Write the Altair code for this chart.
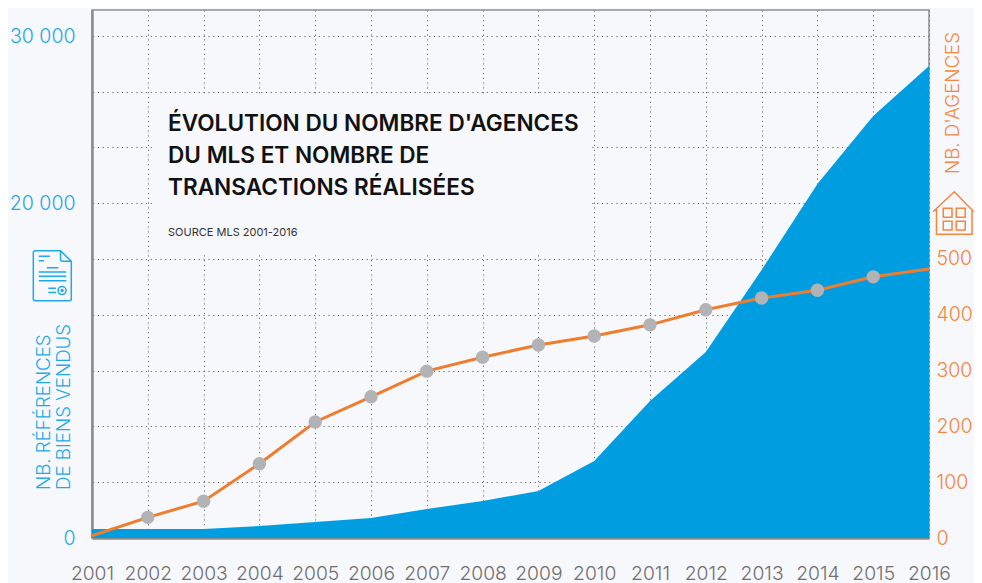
import altair as alt
import pandas as pd

years = list(range(2001, 2017))
listings = [540, 540, 540, 720, 960, 1200, 1730, 2210, 2810, 4600, 8190, 11120, 16020, 21160, 25220, 28200]
agencies = [4, 37, 66, 133, 208, 253, 299, 324, 346, 362, 382, 409, 430, 444, 468, 482]
title_lines = ["ÉVOLUTION DU NOMBRE D'AGENCES", "DU MLS ET NOMBRE DE", "TRANSACTIONS RÉALISÉES"]
source_text = "SOURCE MLS 2001-2016"

FONT = "Inter"
BG = "#f7f8fb"
BLUE = "#009ee0"
BLUE_T = "#1fa9e8"
ORANGE = "#f07c2e"
ORANGE_T = "#f4873f"
GREY = "#6f6f6f"
DOT = "#b1b3b6"

df = pd.DataFrame({"year": years, "listings": listings, "agencies": agencies})
dots = df[(df.year > 2001) & (df.year < 2016)]
one = pd.DataFrame({"a": [0]})

xs = alt.Scale(domain=[2001, 2016], nice=False, zero=False)
yl = alt.Scale(domain=[0, 31554], nice=False)
yr = alt.Scale(domain=[0, 946.2], nice=False)

x_axis = alt.Axis(values=years, format="d", title=None, grid=True, gridColor="#6a6a6a", gridDash=[1.2, 3.6],
                  gridWidth=1, ticks=False, domain=True, domainColor="#8d8d8d", domainWidth=2.5,
                  labelFont=FONT, labelFontSize=19.3, labelColor=GREY, labelPadding=35, labelFontWeight=300,
                  labelOverlap=False, labelFlush=False, labelBaseline="middle")
left_axis = alt.Axis(values=[0, 20000, 30000], orient="left", title=None, grid=False, ticks=False, domain=True,
                     domainColor="#8d8d8d", domainWidth=2.5, labelFont=FONT, labelFontSize=19.5, labelFontWeight=300,
                     labelColor=BLUE_T, labelPadding=17,
                     labelExpr="replace(format(datum.value, ','), ',', ' ')")
right_axis = alt.Axis(values=[0, 100, 200, 300, 400, 500, 600, 700, 800, 900], orient="right", title=None, grid=True,
                      gridColor="#6a6a6a", gridDash=[1.2, 3.6], gridWidth=1, ticks=False, domain=False,
                      labelFont=FONT, labelFontSize=19.5, labelFontWeight=300, labelColor=ORANGE_T, labelPadding=7,
                      labelExpr="datum.value <= 500 ? datum.label : ''")

area = alt.Chart(df).mark_area(color=BLUE, opacity=1).encode(
    x=alt.X("year:Q", scale=xs, axis=x_axis),
    y=alt.Y("listings:Q", scale=yl, axis=left_axis),
)
mask = alt.Chart(pd.DataFrame({"x": [2002.09], "x2": [2009.91], "y": [509], "y2": [791]})).mark_rect(color=BG).encode(
    x=alt.X("x:Q", scale=xs), x2="x2:Q",
    y=alt.Y("y:Q", scale=yr, axis=None), y2="y2:Q",
)
line = alt.Chart(df).mark_line(color=ORANGE, strokeWidth=3).encode(
    x=alt.X("year:Q", scale=xs),
    y=alt.Y("agencies:Q", scale=yr, axis=right_axis),
)
points = alt.Chart(dots).mark_circle(color=DOT, opacity=1, size=180).encode(
    x=alt.X("year:Q", scale=xs),
    y=alt.Y("agencies:Q", scale=yr, axis=None),
)


def text(t, x, y, size, color, weight=400, angle=0):
    return alt.Chart(one).mark_text(text=t, align="left", baseline="middle", font=FONT, fontSize=size,
                                    color=color, fontWeight=weight, angle=angle).encode(
        x=alt.value(x), y=alt.value(y))


DOC = ("M-0.72,-1 L0.33,-1 L0.76,-0.58 L0.76,0.92 Q0.76,1 0.68,1 L-0.68,1 Q-0.76,1 -0.76,0.92 L-0.76,-0.92 Q-0.76,-1 -0.68,-1 "
       "M0.33,-1 L0.33,-0.66 Q0.33,-0.58 0.41,-0.58 L0.76,-0.58 "
       "M-0.54,-0.78 L-0.1,-0.78 M-0.54,-0.6 L-0.33,-0.6 M-0.22,-0.32 L0.24,-0.32 "
       "M-0.54,-0.15 L0.56,-0.15 M-0.54,0.02 L0.56,0.02 M-0.54,0.2 L0.56,0.2 "
       "M-0.16,0.5 L0.15,0.5 M-0.16,0.67 L0.15,0.67 "
       "M0.55,0.59 A0.16,0.16 0 1 1 0.23,0.59 A0.16,0.16 0 1 1 0.55,0.59 "
       "M0.43,0.59 A0.04,0.04 0 1 1 0.35,0.59 A0.04,0.04 0 1 1 0.43,0.59")
HOUSE = ("M-0.96,-0.06 L0.04,-1 L0.95,-0.06 M-0.8,-0.2 L-0.8,1 L0.87,1 L0.87,-0.2 "
         "M-0.48,-0.22 L-0.07,-0.22 L-0.07,0.2 L-0.48,0.2 Z M0.13,-0.22 L0.55,-0.22 L0.55,0.2 L0.13,0.2 Z "
         "M-0.48,0.39 L-0.07,0.39 L-0.07,0.8 L-0.48,0.8 Z M0.13,0.39 L0.55,0.39 L0.55,0.8 L0.13,0.8 Z")


def icon(path, x, y, size, color):
    return alt.Chart(one).mark_point(shape=path, size=size, filled=False, stroke=color, strokeWidth=1.5, opacity=1).encode(
        x=alt.value(x), y=alt.value(y))


layers = [
    area, mask, line, points,
    text(title_lines[0], 76, 114, 22.6, "#111111", 600),
    text(title_lines[1], 76, 146, 22.6, "#111111", 600),
    text(title_lines[2], 76, 178, 22.6, "#111111", 600),
    text(source_text, 76, 223, 11, "#333333", 400),
    text("NB. RÉFÉRENCES", -48, 480, 18.7, BLUE_T, 300, 270),
    text("DE BIENS VENDUS", -28, 480, 18.7, BLUE_T, 300, 270),
    text("NB. D'AGENCES", 861, 164, 18.7, ORANGE_T, 300, 270),
    icon(DOC, -39.7, 265.8, 2500, BLUE_T),
    icon(HOUSE, 861.5, 203, 1815, ORANGE_T),
]

chart = alt.layer(*layers).resolve_scale(y="independent").properties(
    width=837, height=528, background=BG, autosize="none",
    padding={"left": 84, "top": 2, "right": 45, "bottom": 45},
).configure_view(stroke="#8d8d8d", strokeWidth=1.5)

chart.save("out.html", embed_options={"renderer": "svg", "actions": False})
